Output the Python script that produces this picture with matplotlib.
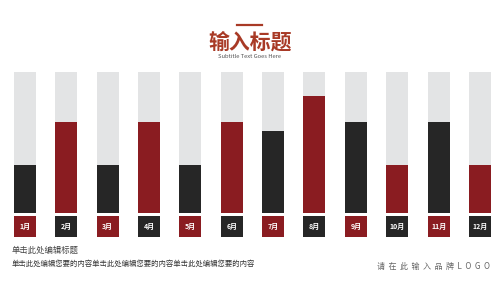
import matplotlib
matplotlib.use("Agg")
import matplotlib.pyplot as plt

plt.rcParams['font.family'] = ['Noto Sans CJK SC', 'DejaVu Sans']

# data
months = ["1月", "2月", "3月", "4月", "5月", "6月", "7月", "8月", "9月", "10月", "11月", "12月"]
values = [0.34, 0.64, 0.34, 0.64, 0.34, 0.64, 0.58, 0.83, 0.64, 0.34, 0.64, 0.34]

DARK = "#262626"
RED = "#8a1c21"
GRAY = "#e3e4e5"
bar_colors = [DARK if i % 2 == 0 else RED for i in range(len(months))]
label_colors = [RED if i % 2 == 0 else DARK for i in range(len(months))]

fig = plt.figure(figsize=(5, 2.81), dpi=100)
ax = fig.add_axes([0, 68.3 / 281, 1, 141 / 281])
x = list(range(len(months)))
w = 22 / 41.4

# gray background bars, value bars and month boxes
ax.bar(x, [1] * len(x), width=w, color=GRAY)
ax.bar(x, values, width=w, color=bar_colors)
ax.bar(x, 0.149, bottom=-0.172, width=w, color=label_colors, clip_on=False)
for i, m in enumerate(months):
    ax.text(i, -0.098, m, ha="center", va="center", color="white",
            fontsize=5, fontweight="bold", clip_on=False)

ax.set_xlim(-24.7 / 41.4, (500 - 24.7) / 41.4)
ax.set_ylim(0, 1)
ax.axis("off")

# title area
fig.add_artist(plt.Line2D([237 / 500, 262 / 500], [1 - 25 / 281, 1 - 25 / 281],
                          color="#a83a26", lw=1.6))
fig.text(0.5, 1 - 42 / 281, "输入标题", ha="center", va="center",
         fontsize=15, color="#a83a26", fontweight="bold")
fig.text(0.5, 1 - 57 / 281, "Subtitle Text Goes Here", ha="center", va="center",
         fontsize=4.2, color="#555555")

# bottom texts
fig.text(12 / 500, 1 - 250 / 281, "单击此处编辑标题", ha="left", va="center",
         fontsize=6, color="#444444")
fig.text(12 / 500, 1 - 264 / 281,
         "单击此处编辑您要的内容单击此处编辑您要的内容单击此处编辑您要的内容",
         ha="left", va="center", fontsize=5.3, color="#333333")
fig.text(490 / 500, 1 - 266 / 281, "请  在  此  输  入  品  牌  L  O  G  O", ha="right", va="center",
         fontsize=5.8, color="#666666")

fig.savefig("out.png", dpi=100)
